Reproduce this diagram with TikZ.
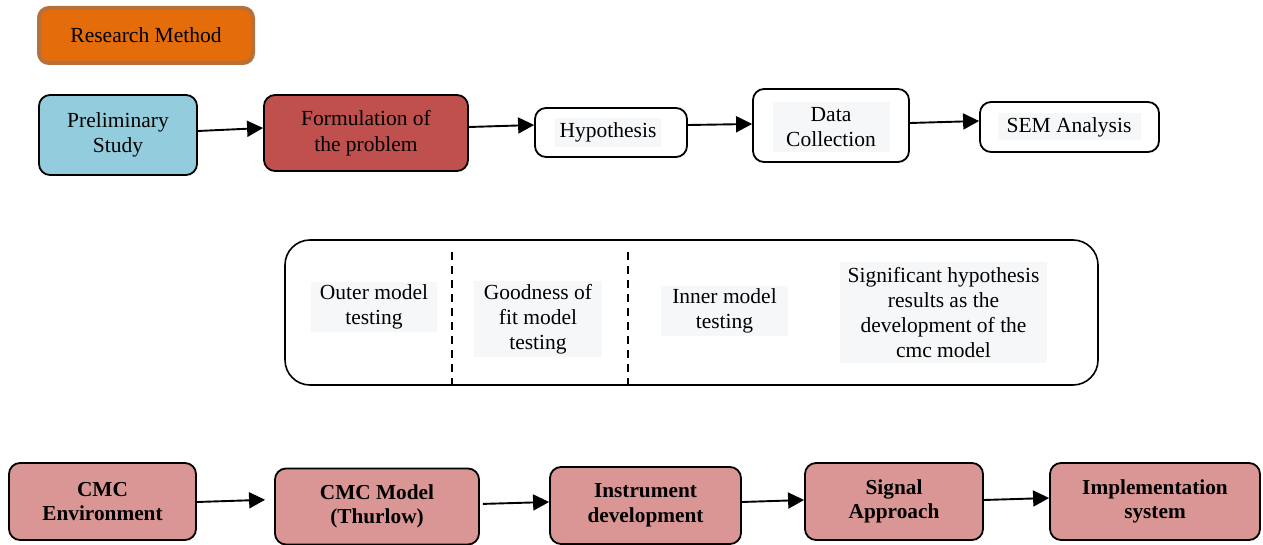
\documentclass[tikz,border=0pt]{standalone}
\usepackage{fontspec}
\setmainfont{Liberation Serif}
\usetikzlibrary{arrows.meta}
\definecolor{orangefill}{HTML}{E46C0A}
\definecolor{orangeline}{HTML}{B7703A}
\definecolor{bluefill}{HTML}{93CDDD}
\definecolor{redfill}{HTML}{C0504D}
\definecolor{pinkfill}{HTML}{D99694}
\definecolor{txtbg}{HTML}{F6F7F9}
\begin{document}
\begin{tikzpicture}[x=1pt,y=-1pt,
  box/.style={draw=black, line width=1.8pt, rounded corners=11pt, inner sep=0pt,
    align=center, font=\fontsize{21.5}{25.5}\selectfont},
  bbox/.style={box, fill=pinkfill, font=\fontsize{21.3}{24.5}\selectfont\bfseries},
  tbox/.style={fill=txtbg, inner sep=0pt, align=center, font=\fontsize{21.5}{24.8}\selectfont},
  arr/.style={line width=1.9pt, -{Triangle[length=16pt,width=16pt]}},
  dashline/.style={line width=1.5pt, dash pattern=on 8pt off 6pt}]
\useasboundingbox (0,0) rectangle (1263,545);

% title
\node[draw=orangeline, line width=4pt, fill=orangefill, rounded corners=10pt,
  minimum width=214pt, minimum height=55pt, font=\fontsize{21.5}{25}\selectfont]
  (rm) at (146,35.5) {Research Method};

% top row
\node[box, fill=bluefill, minimum width=158pt, minimum height=80pt] (pre) at (118,135) {Preliminary\\Study};
\node[box, fill=redfill, minimum width=204pt, minimum height=76pt] (form) at (366,133) {Formulation of\\the problem};
\node[box, minimum width=152pt, minimum height=49pt] (hyp) at (611,132.5) {};
\node[tbox, minimum width=106pt, minimum height=29pt] (hypt) at (608,132.5) {Hypothesis};
\node[box, minimum width=156pt, minimum height=73pt] (data) at (831,125.5) {};
\node[tbox, minimum width=117pt, minimum height=50pt] (datat) at (831,127) {Data\\Collection};
\node[box, minimum width=179pt, minimum height=50pt] (sem) at (1069.5,127) {};
\node[tbox, minimum width=143pt, minimum height=27pt] (semt) at (1069,127) {SEM Analysis};

\draw[arr] ([yshift=4pt]pre.east) -- ([yshift=5pt]form.west);
\draw[arr] ([yshift=6pt]form.east) -- ([yshift=7.5pt]hyp.west);
\draw[arr] ([yshift=7.5pt]hyp.east) -- ([yshift=1.5pt]data.west);
\draw[arr] ([yshift=2.5pt]data.east) -- ([yshift=6pt]sem.west);

% middle panel
\node[draw=black, line width=1.6pt, rounded corners=25pt, minimum width=813pt,
  minimum height=145pt, inner sep=0pt] (panel) at (691.5,312.5) {};
\draw[dashline] (452,252) -- (452,385);
\draw[dashline] (628,252) -- (628,385);
\node[tbox, minimum width=126pt, minimum height=50pt] (outer) at (374,307) {Outer model\\testing};
\node[tbox, minimum width=128pt, minimum height=75pt] (good) at (538,319) {Goodness of\\fit model\\testing};
\node[tbox, minimum width=127pt, minimum height=50pt] (inner) at (724.5,311) {Inner model\\testing};
\node[tbox, minimum width=207pt, minimum height=100pt] (sig) at (943.5,312.5) {Significant hypothesis\\results as the\\development of the\\cmc model};

% bottom row
\node[bbox, minimum width=187pt, minimum height=77pt] (env) at (102.5,501.5) {CMC\\Environment};
\node[bbox, minimum width=204pt, minimum height=76pt] (model) at (377,506.5) {CMC Model\\(Thurlow)};
\node[bbox, minimum width=191pt, minimum height=77pt] (instr) at (645.5,505.5) {Instrument\\development};
\node[bbox, minimum width=178pt, minimum height=77pt] (signal) at (894,501.5) {Signal\\Approach};
\node[bbox, minimum width=210pt, minimum height=77pt] (impl) at (1155,501.5) {Implementation\\system};

\draw[arr, shorten >=9pt] ([yshift=-0.5pt]env.east) -- ([yshift=7pt]model.west);
\draw[arr, shorten <=3pt] ([yshift=2.5pt]model.east) -- ([yshift=3.5pt]instr.west);
\draw[arr] ([yshift=3.5pt]instr.east) -- ([yshift=1.5pt]signal.west);
\draw[arr] ([yshift=1.5pt]signal.east) -- ([yshift=3.5pt]impl.west);
\end{tikzpicture}
\end{document}
